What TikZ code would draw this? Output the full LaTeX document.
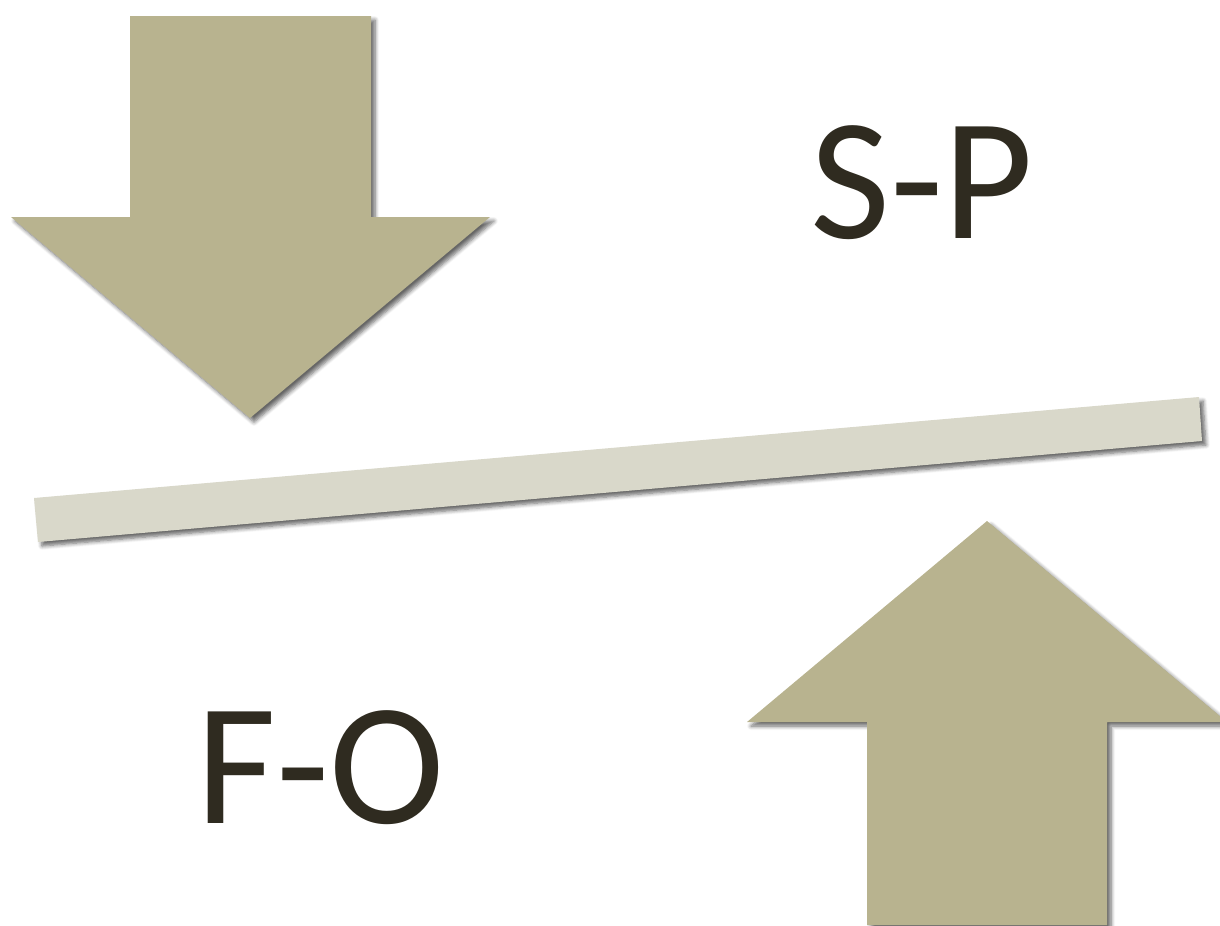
\documentclass[tikz,border=0pt]{standalone}
\usepackage{fontspec}
\setmainfont{Carlito}
\usetikzlibrary{shadows.blur}

\definecolor{khaki}{HTML}{B8B38F}
\definecolor{beam}{HTML}{D9D8CA}
\definecolor{ink}{HTML}{2F2B20}

\tikzset{
  shade/.style={blur shadow={shadow xshift=0.4mm, shadow yshift=-0.4mm,
      shadow blur radius=0.4mm, shadow blur steps=6, shadow opacity=60}},
  bigarrow/.style={fill=khaki, draw=none, shade},
  lever/.style={fill=beam, draw=none, shade},
  tag/.style={text=ink, inner sep=0pt, anchor=base,
      font=\fontsize{49.5}{50}\selectfont}
}

\begin{document}
\begin{tikzpicture}[x=0.1mm, y=-0.1mm]

  \useasboundingbox (0,0) rectangle (1220,925);
  \clip (0,0) rectangle (1220,925);

  % downward push
  \path[bigarrow] (130,16) -- (371,16) -- (371,217) -- (490,217)
      -- (250,418) -- (11,217) -- (130,217) -- cycle;

  % tilted bar
  \path[lever] (34,498) -- (1199,397) -- (1202,441) -- (38,542) -- cycle;

  % upward push
  \path[bigarrow] (867,925) -- (867,722) -- (747,722) -- (987,521)
      -- (1227,722) -- (1107,722) -- (1107,925) -- cycle;

  \node[tag] (sp) at (922,238) {S-P};
  \node[tag] (fo) at (321,823) {F-O};

\end{tikzpicture}
\end{document}
